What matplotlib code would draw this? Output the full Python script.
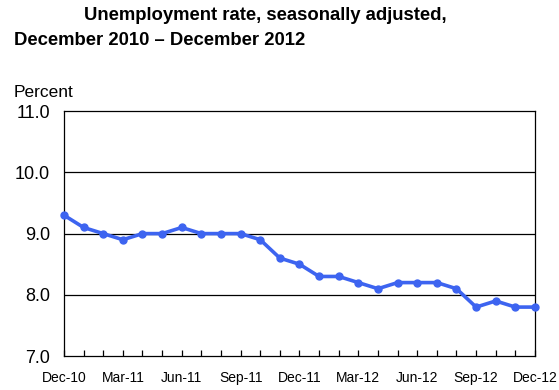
import matplotlib
matplotlib.use('Agg')
import matplotlib.pyplot as plt
import numpy as np

plt.rcParams['font.family'] = ['Liberation Sans', 'DejaVu Sans']

# monthly unemployment rate, Dec 2010 - Dec 2012
months = ['Dec-10', 'Jan-11', 'Feb-11', 'Mar-11', 'Apr-11', 'May-11', 'Jun-11',
          'Jul-11', 'Aug-11', 'Sep-11', 'Oct-11', 'Nov-11', 'Dec-11',
          'Jan-12', 'Feb-12', 'Mar-12', 'Apr-12', 'May-12', 'Jun-12',
          'Jul-12', 'Aug-12', 'Sep-12', 'Oct-12', 'Nov-12', 'Dec-12']
rate = [9.3, 9.1, 9.0, 8.9, 9.0, 9.0, 9.1, 9.0, 9.0, 9.0, 8.9, 8.6, 8.5,
        8.3, 8.3, 8.2, 8.1, 8.2, 8.2, 8.2, 8.1, 7.8, 7.9, 7.8, 7.8]
y_ticks = [7.0, 8.0, 9.0, 10.0, 11.0]

fig = plt.figure(figsize=(5.59, 3.9), dpi=100)
ax = fig.add_axes([0.1145, 0.087, 0.8425, 0.628])

x = np.arange(len(months))
ax.plot(x, rate, color='#3d64f0', lw=2.6, marker='o', ms=5, clip_on=False, zorder=3)

ax.set_xlim(0, len(months) - 1)
ax.set_ylim(7, 11)
for v in y_ticks[1:-1]:
    ax.axhline(v, color='black', lw=0.9, zorder=1)

ax.set_yticks(y_ticks)
ax.set_yticklabels([f'{v:.1f}' for v in y_ticks], fontsize=13)
ax.tick_params(axis='y', length=0, pad=10)

ax.set_xticks(x)
ax.set_xticklabels([m if i % 3 == 0 else '' for i, m in enumerate(months)], fontsize=10)
ax.tick_params(axis='x', direction='in', length=4, width=0.9, pad=11)

for s in ax.spines.values():
    s.set_linewidth(0.9)

fig.text(0.475, 0.982, 'Unemployment rate, seasonally adjusted,', ha='center', va='top',
         fontsize=13.3, fontweight='bold')
fig.text(0.025, 0.918, 'December 2010 \u2013 December 2012', ha='left', va='top',
         fontsize=13.3, fontweight='bold')
fig.text(0.025, 0.762, 'Percent', ha='left', va='center', fontsize=12.5)

fig.savefig('out.png', dpi=100)
